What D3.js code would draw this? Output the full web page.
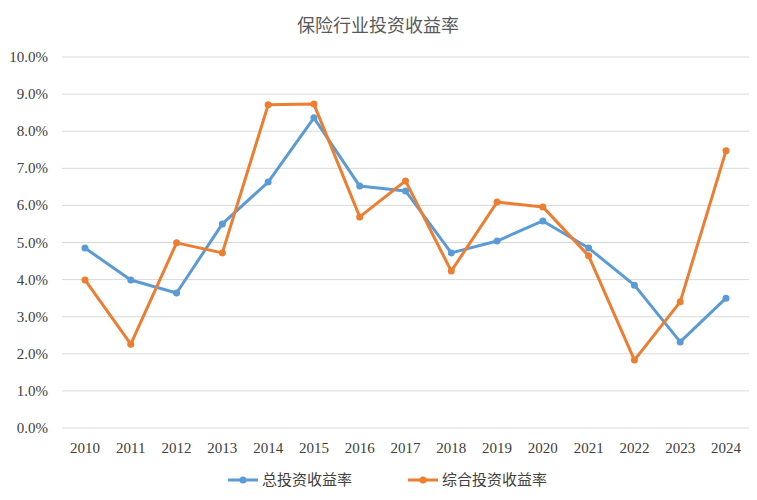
<!DOCTYPE html>
<html><head><meta charset="utf-8">
<script src="https://cdn.jsdelivr.net/npm/d3@7"></script>
<style>body{margin:0;background:#fff}</style>
</head><body><svg id="c" width="757" height="500"></svg>
<script>
// Data
var years = ["2010","2011","2012","2013","2014","2015","2016","2017","2018","2019","2020","2021","2022","2023","2024"];
var totalYield = [4.85,3.99,3.64,5.50,6.63,8.36,6.52,6.39,4.72,5.04,5.58,4.85,3.85,2.32,3.50];
var compYield = [3.99,2.26,4.99,4.72,8.71,8.73,5.69,6.66,4.23,6.09,5.96,4.64,1.83,3.40,7.47];
var yTicks = [0,1,2,3,4,5,6,7,8,9,10];

var svg = d3.select("#c");
var font = "'Liberation Serif','Noto Sans CJK SC',serif";
var plot = {left: 62, right: 749, top: 57, bottom: 428};

var x = d3.scalePoint().domain(years).range([85, 726]);
var y = d3.scaleLinear().domain([0, 10]).range([plot.bottom, plot.top]);

// Grid
svg.append("g").selectAll("line").data(yTicks).join("line")
	.attr("x1", plot.left).attr("x2", plot.right)
	.attr("y1", function(d) { return y(d); }).attr("y2", function(d) { return y(d); })
	.attr("stroke", "#d9d9d9").attr("stroke-width", 1);

// Y labels
svg.append("g").selectAll("text").data(yTicks).join("text")
	.attr("x", 48).attr("y", function(d) { return y(d) + 5; })
	.attr("text-anchor", "end").attr("font-family", font).attr("font-size", 15).attr("fill", "#404040")
	.text(function(d) { return d.toFixed(1) + "%"; });

// X labels
svg.append("g").selectAll("text").data(years).join("text")
	.attr("x", function(d) { return x(d); }).attr("y", 453)
	.attr("text-anchor", "middle").attr("font-family", font).attr("font-size", 15).attr("fill", "#404040")
	.text(function(d) { return d; });

// Title
svg.append("text").attr("x", 378).attr("y", 32).attr("text-anchor", "middle")
	.attr("font-family", font).attr("font-size", 18).attr("fill", "#595959").text("保险行业投资收益率");

// Series
var series = [
	{name: "总投资收益率", values: totalYield, color: "#5B9BD5"},
	{name: "综合投资收益率", values: compYield, color: "#ED7D31"}
];
var line = d3.line().x(function(d, i) { return x(years[i]); }).y(function(d) { return y(d); });
series.forEach(function(s) {
	svg.append("path").datum(s.values).attr("d", line)
		.attr("fill", "none").attr("stroke", s.color).attr("stroke-width", 3).attr("stroke-linejoin", "round");
	svg.append("g").selectAll("circle").data(s.values).join("circle")
		.attr("cx", function(d, i) { return x(years[i]); }).attr("cy", function(d) { return y(d); })
		.attr("r", 3.5).attr("fill", s.color);
});

// Legend
var legX = [228, 408];
series.forEach(function(s, i) {
	var g = svg.append("g").attr("transform", "translate(" + legX[i] + ",480)");
	g.append("line").attr("x1", 0).attr("x2", 30).attr("stroke", s.color).attr("stroke-width", 3);
	g.append("circle").attr("cx", 15).attr("r", 3.5).attr("fill", s.color);
	g.append("text").attr("x", 34).attr("y", 5).attr("font-family", font).attr("font-size", 15)
		.attr("fill", "#404040").text(s.name);
});
</script></body></html>
